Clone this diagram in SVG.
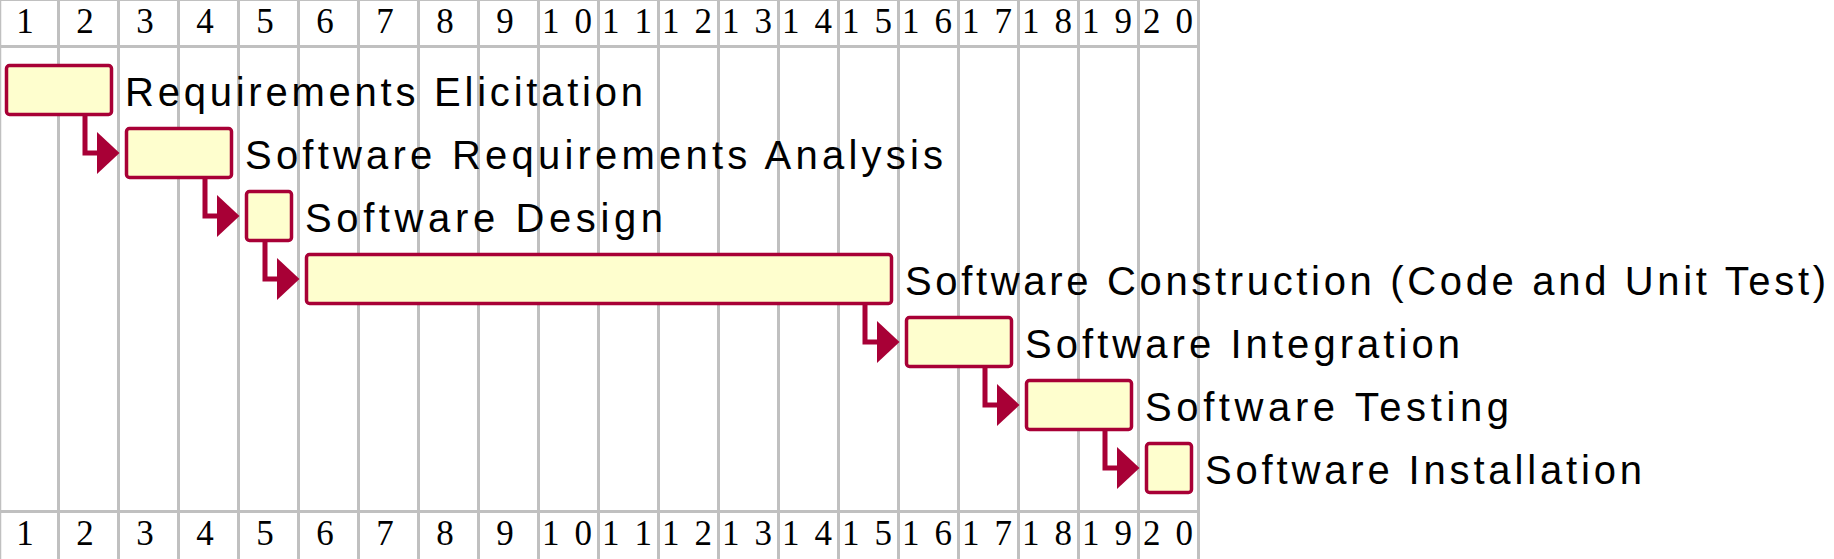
<svg xmlns="http://www.w3.org/2000/svg" width="1834" height="559" viewBox="0 0 1834 559">
<defs>
<style>
.grid line{stroke:#C0C0C0;stroke-width:3}
.day{font-family:"Liberation Serif","Times New Roman",serif;font-size:35px;fill:#000;text-anchor:middle}
.bar{fill:#FEFECE;stroke:#A80036;stroke-width:3.5}
.lbl{font-family:"Liberation Sans",Arial,sans-serif;font-size:40px;fill:#000}
.conn path{fill:none;stroke:#A80036;stroke-width:5;stroke-linejoin:miter}
.conn polygon{fill:#A80036;stroke:none}
</style>
</defs>
<rect width="1834" height="559" fill="#FFFFFF"/>
<g class="grid">
<line x1="0.5" y1="0" x2="0.5" y2="559" style="stroke-width:1.5"/>
<line x1="58.5" y1="0" x2="58.5" y2="559"/>
<line x1="118.5" y1="0" x2="118.5" y2="559"/>
<line x1="178.5" y1="0" x2="178.5" y2="559"/>
<line x1="238.5" y1="0" x2="238.5" y2="559"/>
<line x1="298.5" y1="0" x2="298.5" y2="559"/>
<line x1="358.5" y1="0" x2="358.5" y2="559"/>
<line x1="418.5" y1="0" x2="418.5" y2="559"/>
<line x1="478.5" y1="0" x2="478.5" y2="559"/>
<line x1="538.5" y1="0" x2="538.5" y2="559"/>
<line x1="598.5" y1="0" x2="598.5" y2="559"/>
<line x1="658.5" y1="0" x2="658.5" y2="559"/>
<line x1="718.5" y1="0" x2="718.5" y2="559"/>
<line x1="778.5" y1="0" x2="778.5" y2="559"/>
<line x1="838.5" y1="0" x2="838.5" y2="559"/>
<line x1="898.5" y1="0" x2="898.5" y2="559"/>
<line x1="958.5" y1="0" x2="958.5" y2="559"/>
<line x1="1018.5" y1="0" x2="1018.5" y2="559"/>
<line x1="1078.5" y1="0" x2="1078.5" y2="559"/>
<line x1="1138.5" y1="0" x2="1138.5" y2="559"/>
<line x1="1198.5" y1="0" x2="1198.5" y2="559"/>
<line x1="0" y1="0.5" x2="1198.5" y2="0.5" style="stroke-width:1"/>
<line x1="0" y1="46.5" x2="1198.5" y2="46.5"/>
<line x1="0" y1="511.5" x2="1198.5" y2="511.5"/>
</g>
<g id="header">
<text class="day" x="25" y="33">1</text>
<text class="day" x="85" y="33">2</text>
<text class="day" x="145" y="33">3</text>
<text class="day" x="205" y="33">4</text>
<text class="day" x="265" y="33">5</text>
<text class="day" x="325" y="33">6</text>
<text class="day" x="385" y="33">7</text>
<text class="day" x="445" y="33">8</text>
<text class="day" x="505" y="33">9</text>
<text class="day" x="567" y="33" textLength="50" lengthAdjust="spacing">10</text>
<text class="day" x="627" y="33" textLength="50" lengthAdjust="spacing">11</text>
<text class="day" x="687" y="33" textLength="50" lengthAdjust="spacing">12</text>
<text class="day" x="747" y="33" textLength="50" lengthAdjust="spacing">13</text>
<text class="day" x="807" y="33" textLength="50" lengthAdjust="spacing">14</text>
<text class="day" x="867" y="33" textLength="50" lengthAdjust="spacing">15</text>
<text class="day" x="927" y="33" textLength="50" lengthAdjust="spacing">16</text>
<text class="day" x="987" y="33" textLength="50" lengthAdjust="spacing">17</text>
<text class="day" x="1047" y="33" textLength="50" lengthAdjust="spacing">18</text>
<text class="day" x="1107" y="33" textLength="50" lengthAdjust="spacing">19</text>
<text class="day" x="1168" y="33" textLength="50" lengthAdjust="spacing">20</text>
</g>
<g id="footer">
<text class="day" x="25" y="545">1</text>
<text class="day" x="85" y="545">2</text>
<text class="day" x="145" y="545">3</text>
<text class="day" x="205" y="545">4</text>
<text class="day" x="265" y="545">5</text>
<text class="day" x="325" y="545">6</text>
<text class="day" x="385" y="545">7</text>
<text class="day" x="445" y="545">8</text>
<text class="day" x="505" y="545">9</text>
<text class="day" x="567" y="545" textLength="50" lengthAdjust="spacing">10</text>
<text class="day" x="627" y="545" textLength="50" lengthAdjust="spacing">11</text>
<text class="day" x="687" y="545" textLength="50" lengthAdjust="spacing">12</text>
<text class="day" x="747" y="545" textLength="50" lengthAdjust="spacing">13</text>
<text class="day" x="807" y="545" textLength="50" lengthAdjust="spacing">14</text>
<text class="day" x="867" y="545" textLength="50" lengthAdjust="spacing">15</text>
<text class="day" x="927" y="545" textLength="50" lengthAdjust="spacing">16</text>
<text class="day" x="987" y="545" textLength="50" lengthAdjust="spacing">17</text>
<text class="day" x="1047" y="545" textLength="50" lengthAdjust="spacing">18</text>
<text class="day" x="1107" y="545" textLength="50" lengthAdjust="spacing">19</text>
<text class="day" x="1168" y="545" textLength="50" lengthAdjust="spacing">20</text>
</g>
<g class="conn" id="connectors">
<path d="M85 114.5 V153 H100"/><polygon points="97,132 119.5,153 97,174"/>
<path d="M205 177.5 V216 H220"/><polygon points="217,195 239.5,216 217,237"/>
<path d="M265 240.5 V279 H280"/><polygon points="277,258 299.5,279 277,300"/>
<path d="M865 303.5 V342 H880"/><polygon points="877,321 899.5,342 877,363"/>
<path d="M985 366.5 V405 H1000"/><polygon points="997,384 1019.5,405 997,426"/>
<path d="M1105 429.5 V468 H1120"/><polygon points="1117,447 1139.5,468 1117,489"/>
</g>
<g id="task1">
<rect class="bar" x="6.5" y="65.5" width="105" height="49" rx="3"/>
<text class="lbl" x="125" y="106" textLength="518" lengthAdjust="spacing">Requirements Elicitation</text>
</g>
<g id="task2">
<rect class="bar" x="126.5" y="128.5" width="105" height="49" rx="3"/>
<text class="lbl" x="245" y="169" textLength="698" lengthAdjust="spacing">Software Requirements Analysis</text>
</g>
<g id="task3">
<rect class="bar" x="246.5" y="191.5" width="45" height="49" rx="3"/>
<text class="lbl" x="305" y="232" textLength="358" lengthAdjust="spacing">Software Design</text>
</g>
<g id="task4">
<rect class="bar" x="306.5" y="254.5" width="585" height="49" rx="3"/>
<text class="lbl" x="905" y="295" textLength="921" lengthAdjust="spacing">Software Construction (Code and Unit Test)</text>
</g>
<g id="task5">
<rect class="bar" x="906.5" y="317.5" width="105" height="49" rx="3"/>
<text class="lbl" x="1025" y="358" textLength="435" lengthAdjust="spacing">Software Integration</text>
</g>
<g id="task6">
<rect class="bar" x="1026.5" y="380.5" width="105" height="49" rx="3"/>
<text class="lbl" x="1145" y="421" textLength="364" lengthAdjust="spacing">Software Testing</text>
</g>
<g id="task7">
<rect class="bar" x="1146.5" y="443.5" width="45" height="49" rx="3"/>
<text class="lbl" x="1205" y="484" textLength="437" lengthAdjust="spacing">Software Installation</text>
</g>
</svg>
